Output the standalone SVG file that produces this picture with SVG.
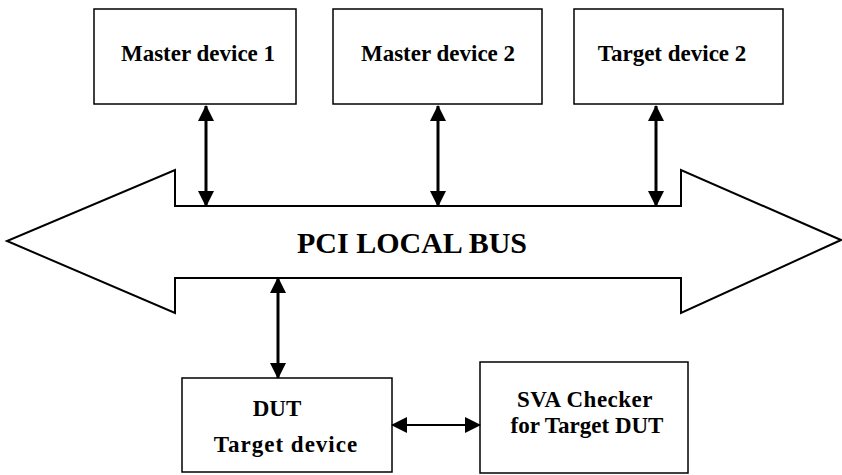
<svg xmlns="http://www.w3.org/2000/svg" width="842" height="475" viewBox="0 0 842 475">
<style>
.box{fill:#fff;stroke:#000;stroke-width:1.5}
.lbl{font-family:"Liberation Serif","Times New Roman",serif;font-weight:bold;font-size:23px;fill:#000}
.bus{fill:#fff;stroke:#000;stroke-width:2;stroke-linejoin:miter}
.conn{stroke:#000;stroke-width:3;fill:none;marker-start:url(#ah);marker-end:url(#ah)}
.conn2{stroke:#000;stroke-width:2;fill:none;marker-start:url(#ah);marker-end:url(#ah)}
</style>
<defs>
<marker id="ah" markerUnits="userSpaceOnUse" markerWidth="16" markerHeight="16" refX="15" refY="8" orient="auto-start-reverse" viewBox="0 0 16 16">
<path d="M0,0 L16,8 L0,16 Z" fill="#000"/>
</marker>
</defs>
<rect width="842" height="475" fill="#fff"/>
<g id="bus">
<polygon class="bus" points="175,170 175,206 681,206 681,170 841,240 681,313 681,278 175,278 175,313 7,241"/>
<text class="lbl" x="412" y="253" text-anchor="middle" style="font-size:30px">PCI LOCAL BUS</text>
</g>
<g id="master1">
<rect class="box" x="94" y="9" width="202" height="95"/>
<text class="lbl" x="198" y="61" text-anchor="middle">Master device 1</text>
</g>
<g id="master2">
<rect class="box" x="333" y="9" width="209" height="95"/>
<text class="lbl" x="438" y="61" text-anchor="middle">Master device 2</text>
</g>
<g id="target2">
<rect class="box" x="574" y="9" width="209" height="95"/>
<text class="lbl" x="672" y="61" text-anchor="middle">Target device 2</text>
</g>
<g id="dut">
<rect class="box" x="182" y="378" width="210" height="94"/>
<text class="lbl" x="277" y="416" text-anchor="middle">DUT</text>
<text class="lbl" x="286" y="452" text-anchor="middle" letter-spacing="1">Target device</text>
</g>
<g id="sva">
<rect class="box" x="480" y="362" width="208" height="111"/>
<text class="lbl" x="585" y="407" text-anchor="middle" letter-spacing="0.5">SVA Checker</text>
<text class="lbl" x="587" y="433" text-anchor="middle">for Target DUT</text>
</g>
<g id="connectors">
<line class="conn" x1="206" y1="106" x2="206" y2="206"/>
<line class="conn" x1="438" y1="106" x2="438" y2="206"/>
<line class="conn" x1="656" y1="106" x2="656" y2="206"/>
<line class="conn" x1="278" y1="278" x2="278" y2="378"/>
<line class="conn2" x1="392" y1="425" x2="480" y2="425"/>
</g>
</svg>
